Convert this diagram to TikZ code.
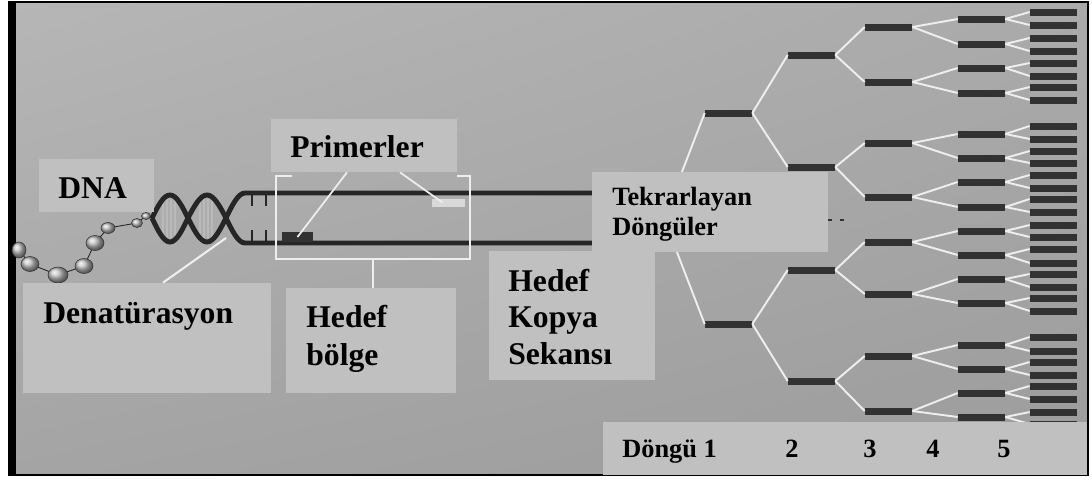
\documentclass[tikz,border=0pt]{standalone}
\usepackage{fontspec}
\setmainfont{Liberation Serif}
\usetikzlibrary{fit,shadings}
\definecolor{panelGray}{RGB}{192,192,192}
\definecolor{barDark}{RGB}{50,50,50}
\definecolor{strandDark}{RGB}{38,38,38}
\definecolor{bgTL}{RGB}{182,182,182}
\definecolor{bgTR}{RGB}{170,170,170}
\definecolor{bgBL}{RGB}{164,164,164}
\definecolor{bgBR}{RGB}{156,156,156}
\definecolor{lineWhite}{RGB}{238,238,238}

\begin{document}
\begin{tikzpicture}[x=0.02cm, y=-0.02cm,
    panel/.style={fill=panelGray, inner sep=0pt},
    lbl/.style={font=\fontsize{18}{21.5}\selectfont\bfseries, inner sep=0pt, anchor=base west, align=left},
    small/.style={font=\fontsize{15}{17}\selectfont\bfseries, inner sep=0pt, anchor=base west, align=left},
    bar/.style={fill=barDark, minimum width=0.94cm, minimum height=0.14cm, inner sep=0pt},
    branch/.style={lineWhite, line width=1.1pt},
    leader/.style={lineWhite, line width=1pt},
    strand/.style={strandDark, line width=2.8pt},
    rung/.style={gray!55, line width=0.6pt},
    tick/.style={strandDark, line width=1.1pt}]

  \useasboundingbox (0,0) rectangle (1092,481);

  % backdrop and frame
  \shade[upper left=bgTL, upper right=bgTR, lower left=bgBL, lower right=bgBR]
    (8,2) rectangle (1088,475);
  \draw[line width=0.9pt] (8.5,2) rectangle (1088,475);
  \fill (8,2) rectangle (16,475);

  % loose bead chain on the left
  \draw[strandDark, line width=0.5pt] (19,250) -- (30,264) -- (58,275) -- (84,266)
    -- (95,243) -- (108,228) -- (137,223) -- (146,216) -- (152,218);
  \foreach \bx/\by/\rx/\ry in {19/250/7/8, 30/264/9/7.5, 58/275/10/8, 84/266/9/7.5,
      95/243/9/7.5, 108/228/7/5.5, 137/223/5.5/4.5, 146/216/4.5/3.5}
    \shade[ball color=gray!50, draw=gray!40!black, line width=0.3pt]
      (\bx,\by) ellipse [x radius=\rx, y radius=\ry];

  % double helix, then the opened strands
  \foreach \c in {170,207}
    \foreach \o in {-7,-3,1,5}{
      \pgfmathsetmacro\h{20*cos(\o*5)}
      \draw[rung] (\c+\o,218.5-\h) -- (\c+\o,218.5+\h);
    }
  \draw[strand] (152,218) sin (170,195) cos (188,218) sin (207,242) cos (226,218)
    sin (245,193) -- (640,193);
  \draw[strand] (152,218) sin (170,242) cos (188,218) sin (207,195) cos (226,218)
    sin (245,243) -- (640,243);
  \foreach \t in {252,266}{
    \draw[tick] (\t,193) -- (\t,206);
    \draw[tick] (\t,243) -- (\t,230);
  }
  \coordinate (fork) at (226,238);

  % primers
  \node[fill=barDark, inner sep=0pt, minimum width=0.62cm, minimum height=0.2cm] (primdark) at (297.5,237) {};
  \node[fill=gray!30, inner sep=0pt, minimum width=0.66cm, minimum height=0.16cm] (primlight) at (448.5,202.5) {};

  % target region bracket
  \node[inner sep=0pt, fit={(276,176) (470,259)}] (target) {};
  \draw[leader, line width=1.2pt] ([shift={(16,0)}]target.north west) -- (target.north west)
    -- (target.south west) -- (target.south east) -- (target.north east)
    -- ([shift={(-13,0)}]target.north east);

  % amplification tree: one column of copies per cycle
  \coordinate (root) at (664,218.5);
  \foreach \y [count=\i] in {113,324}
    \node[bar] (c1-\i) at (728.5,\y) {};
  \foreach \y [count=\i] in {55,167,270,381}
    \node[bar] (c2-\i) at (811.5,\y) {};
  \foreach \y [count=\i] in {27,82,143,197,242,294,356,411}
    \node[bar] (c3-\i) at (888.5,\y) {};
  \foreach \y [count=\i] in {19,44,68,93,134,158,182,207,231,255,279,303,345,369,393,417}
    \node[bar] (c4-\i) at (981.5,\y) {};
  \foreach \y [count=\i] in {12,25,38,51,63,76,87,100,126,139,151,163,175,188,199,212,
      225,237,249,263,274,287,298,311,337,351,362,375,386,399,412,424}
    \node[bar] (c5-\i) at (1053.5,\y) {};
  \foreach \i in {1,2}
    \draw[branch] (root) -- (c1-\i.west);
  \foreach \lev/\prev/\nn in {2/1/4, 3/2/8, 4/3/16, 5/4/32}
    \foreach \i in {1,...,\nn}{
      \pgfmathtruncatemacro\p{(\i+1)/2}
      \draw[branch] (c\prev-\p.east) -- (c\lev-\i.west);
    }
  \fill[barDark] (828,219) rectangle (832,221);
  \fill[barDark] (840,219) rectangle (844,221);

  % label panels
  \node[panel, fit={(39,159) (154,212)}] (dnabox) {};
  \node[panel, fit={(271,119) (457,172)}] (primbox) {};
  \node[panel, fit={(23,283) (271,393)}] (denbox) {};
  \node[panel, fit={(286,288) (456,393)}] (hbbox) {};
  \node[panel, fit={(489,251) (655,380)}] (hkbox) {};
  \node[panel, fit={(592,172) (828,252)}] (tdbox) {};
  \node[panel, fit={(603,422) (1087,474.5)}] (cyclebar) {};

  % leader lines
  \draw[leader] ([shift={(-17,0)}]primbox.south) -- (primdark.center);
  \draw[leader] ([shift={(36,0)}]primbox.south) -- ([shift={(-6,0)}]primlight.center);
  \draw[leader, line width=1.2pt] ([shift={(16,0)}]denbox.north) -- (fork);
  \draw[leader, line width=1.2pt] (target.south) -- (target.south |- hbbox.north);

  % texts (base anchor sits on the last line)
  \node[lbl] (dnatxt) at (58,198) {DNA};
  \node[lbl] (primtxt) at (290,157) {Primerler};
  \node[lbl] (dentxt) at (43,323) {Denatürasyon};
  \node[lbl] (hbtxt) at (306,365) {Hedef\\bölge};
  \node[lbl, font=\fontsize{18}{20.7}\selectfont\bfseries] (hktxt) at (508,364) {Hedef\\Kopya\\Sekansı};
  \node[small] (tdtxt) at (612,235) {Tekrarlayan\\Döngüler};
  \node[small] (cyc1) at (622,457) {Döngü 1};
  \node[small] (cyc2) at (785,457) {2};
  \node[small] (cyc3) at (863,457) {3};
  \node[small] (cyc4) at (926,457) {4};
  \node[small] (cyc5) at (997,457) {5};
\end{tikzpicture}
\end{document}
